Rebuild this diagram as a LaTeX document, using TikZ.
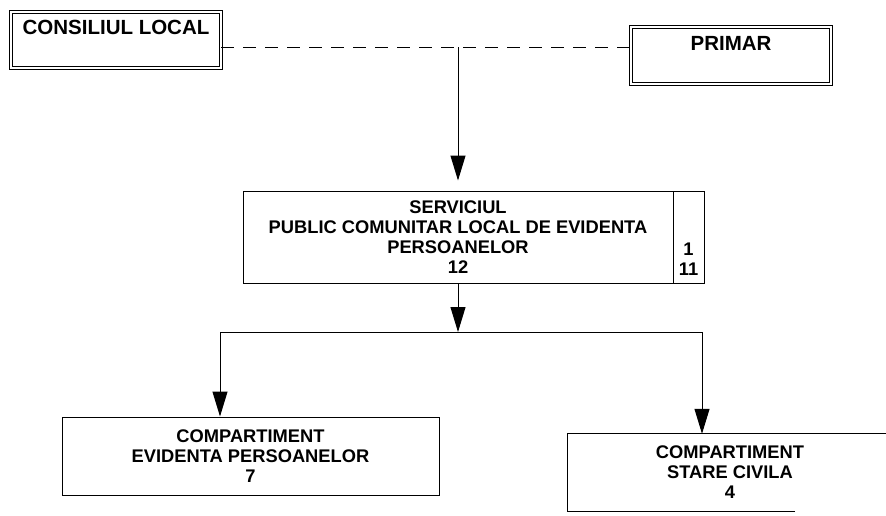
\documentclass[tikz,border=0pt]{standalone}
\usepackage{fontspec}
\setmainfont{Liberation Sans}
\usetikzlibrary{arrows.meta}
\begin{document}
\begin{tikzpicture}[x=1pt,y=-1pt,
  box/.style={draw, line width=1pt, rectangle, inner sep=0pt},
  dbox/.style={draw, line width=0.7pt, double, double distance=2pt, rectangle, inner sep=0pt},
  big/.style={font=\fontsize{20.5}{24}\selectfont\bfseries, inner sep=0pt},
  txt/.style={font=\fontsize{18.3}{20}\selectfont\bfseries, align=center, inner sep=0pt},
  conn/.style={line width=1pt},
  arr/.style={conn, -{Triangle[length=25pt,width=15pt]}}]
\useasboundingbox (0,0) rectangle (886,515);
% top boxes
\node[dbox, minimum width=210pt, minimum height=56pt] (consiliul) at (116,40) {};
\node[big] (consiliultext) at (116,27) {CONSILIUL LOCAL};
\node[dbox, minimum width=200pt, minimum height=57pt] (primar) at (731,55.5) {};
\node[big] (primartext) at (731,43) {PRIMAR};
\coordinate (d) at (458,47);
\draw[conn, dash pattern=on 13pt off 9pt] (consiliul.east |- d) -- (primar.west |- d);
% service box
\node[box, txt, minimum width=430pt, minimum height=92pt] (serv) at (458,237)
  {SERVICIUL\\PUBLIC COMUNITAR LOCAL DE EVIDENTA\\PERSOANELOR\\12};
\node[box, minimum width=31pt, minimum height=92pt] (col) at (688.5,237) {};
\node[txt] (coltext) at (688.5,259.5) {1\\11};
\draw[arr] (d) -- ([yshift=10pt]serv.north);
% distribution
\coordinate (hl) at (220,332);
\coordinate (hr) at (702,332);
\coordinate (hm) at (458,332);
\draw[arr] (serv.south) -- (hm);
\draw[conn] (hl) -- (hr);
% bottom boxes
\node[box, txt, minimum width=377pt, minimum height=78pt] (evid) at (250.5,456)
  {COMPARTIMENT\\EVIDENTA PERSOANELOR\\7};
\node[txt, minimum width=324pt, minimum height=77pt] (stare) at (730,472.5)
  {COMPARTIMENT\\STARE CIVILA\\4};
\draw[conn] ([xshift=-97pt]stare.south east) -- (stare.south west) -- (stare.north west) -- (stare.north east);
\draw[arr] (hl) -- (hl |- evid.north);
\draw[arr] (hr) -- (hr |- stare.north);
\end{tikzpicture}
\end{document}
